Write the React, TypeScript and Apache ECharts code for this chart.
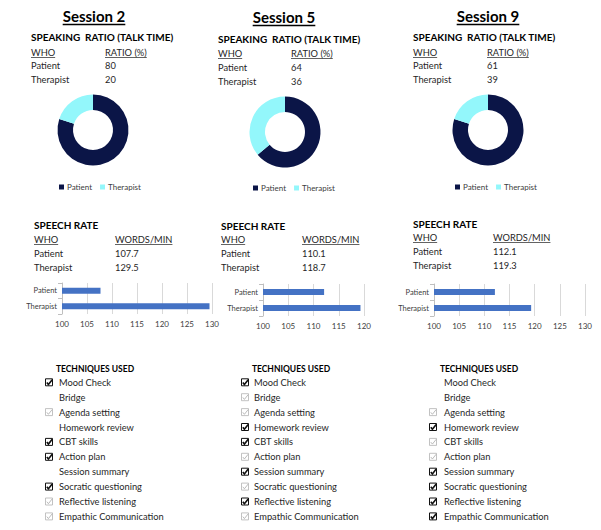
import React, { useEffect, useRef } from "react";
import * as echarts from "echarts";

const sessions = ["Session 2", "Session 5", "Session 9"];
const whoLabels = ["Patient", "Therapist"];
const ratioPatientText = ["80", "64", "61"];
const ratioTherapistText = ["20", "36", "39"];
// slice sizes as drawn in the picture
const donutPatient = [80, 64, 80];
const donutTherapist = [20, 36, 20];
const ratePatientText = ["107.7", "110.1", "112.1"];
const rateTherapistText = ["129.5", "118.7", "119.3"];
// bar lengths as drawn in the picture
const barPatient = [107.7, 112.1, 112.1];
const barTherapist = [129.5, 119.3, 119.3];
const axisMin = 100;
const axisMax = [130, 120, 130];
const axisInterval = 5;
const techniques = [
  "Mood Check",
  "Bridge",
  "Agenda setting",
  "Homework review",
  "CBT skills",
  "Action plan",
  "Session summary",
  "Socratic questioning",
  "Reflective listening",
  "Empathic Communication",
];
// 0 = no box, 1 = light check, 2 = dark check
const techState = [
  [2, 0, 1, 0, 2, 2, 0, 2, 1, 1],
  [2, 1, 1, 2, 2, 1, 2, 1, 2, 1],
  [0, 0, 1, 2, 1, 1, 2, 2, 2, 2],
];

const FONT = "Lato, 'Noto Sans', sans-serif";
const NAVY = "#0b1547";
const CYAN = "#93f7fb";
const BLUE = "#4472c4";
const TXT = "#1f1f1f";

// layout
const L = {
  titleX: [94, 284, 488],
  titleY: [16, 17, 16],
  srX: [31, 218, 413],
  srY: [37, 39, 37],
  whoY: [52, 53, 52],
  valX: [105, 291, 487],
  r1Y: [65, 67, 65],
  r2Y: [79, 81, 79],
  pie: [
    [93, 130],
    [285, 132],
    [488, 130],
  ],
  legLeft: [54, 248, 450],
  legTop: [178, 179, 178],
  rateX: [34, 221, 413],
  rateY: [225, 226, 224],
  rWhoY: [239, 239, 237],
  rValX: [115, 302, 493],
  rr1Y: [253, 253, 251],
  rr2Y: [267, 267, 265],
  grid: [
    { left: 62, top: 283, width: 150, height: 31 },
    { left: 263, top: 284, width: 101, height: 32 },
    { left: 434, top: 284, width: 151, height: 32 },
  ],
  techHX: [95, 291, 479],
  techHY: 369,
  boxX: [45, 241, 429],
  techTX: [59, 254, 444],
  techY0: 382.3,
  techStep: 14.9,
};

let measureCtx: CanvasRenderingContext2D | null = null;
function textWidth(text: string, font: string) {
  if (!measureCtx) measureCtx = document.createElement("canvas").getContext("2d");
  if (!measureCtx) return text.length * 6;
  measureCtx.font = font;
  return measureCtx.measureText(text).width;
}

function txt(text: string, x: number, y: number, font: string, align = "left", fill = TXT, underline = false) {
  const els: any[] = [
    {
      type: "text",
      x,
      y,
      style: {
        text,
        font,
        fill,
        align,
        verticalAlign: "middle",
        textAlign: align,
        textVerticalAlign: "middle",
      },
    },
  ];
  if (underline) {
    const w = textWidth(text, font);
    const x0 = align === "center" ? x - w / 2 : x;
    const m = /(\d+(\.\d+)?)px/.exec(font);
    const fs = m ? parseFloat(m[1]) : 10;
    const uy = Math.round(y + fs * 0.5) + 0.5;
    els.push({
      type: "line",
      shape: { x1: x0, y1: uy, x2: x0 + w, y2: uy },
      style: { stroke: fill, lineWidth: fs > 12 ? 1.3 : 0.7 },
    });
  }
  return els;
}

function checkbox(x: number, y: number, state: number) {
  if (state === 0) return [];
  const dark = state === 2;
  const col = dark ? "#111" : "#b3b3b3";
  const s = 8;
  const top = y - s / 2;
  return [
    {
      type: "rect",
      shape: { x: x + 0.5, y: top + 0.5, width: s - 1, height: s - 1 },
      style: { fill: "#fff", stroke: col, lineWidth: dark ? 1 : 0.8 },
    },
    {
      type: "polyline",
      shape: {
        points: [
          [x + 1.8, top + 4.2],
          [x + 3.4, top + 6.2],
          [x + 7.2, top + 1.4],
        ],
      },
      style: { fill: "none", stroke: col, lineWidth: dark ? 1.6 : 0.9 },
    },
  ];
}

function buildOption() {
  const graphic: any[] = [];
  const fTitle = `bold 15px ${FONT}`;
  const fHead = `bold 10px ${FONT}`;
  const fBody = `9.3px ${FONT}`;
  const fTech = `bold 8.5px ${FONT}`;
  for (let i = 0; i < 3; i++) {
    graphic.push(...txt(sessions[i], L.titleX[i], L.titleY[i], fTitle, "center", "#000", true));
    graphic.push(...txt("SPEAKING  RATIO (TALK TIME)", L.srX[i], L.srY[i], fHead, "left", "#000"));
    graphic.push(...txt("WHO", L.srX[i], L.whoY[i], fBody, "left", TXT, true));
    graphic.push(...txt("RATIO (%)", L.valX[i], L.whoY[i], fBody, "left", TXT, true));
    graphic.push(...txt(whoLabels[0], L.srX[i], L.r1Y[i], fBody));
    graphic.push(...txt(ratioPatientText[i], L.valX[i], L.r1Y[i], fBody));
    graphic.push(...txt(whoLabels[1], L.srX[i], L.r2Y[i], fBody));
    graphic.push(...txt(ratioTherapistText[i], L.valX[i], L.r2Y[i], fBody));

    graphic.push(...txt("SPEECH RATE", L.rateX[i], L.rateY[i], fHead, "left", "#000"));
    graphic.push(...txt("WHO", L.rateX[i], L.rWhoY[i], fBody, "left", TXT, true));
    graphic.push(...txt("WORDS/MIN", L.rValX[i], L.rWhoY[i], fBody, "left", TXT, true));
    graphic.push(...txt(whoLabels[0], L.rateX[i], L.rr1Y[i], fBody));
    graphic.push(...txt(ratePatientText[i], L.rValX[i], L.rr1Y[i], fBody));
    graphic.push(...txt(whoLabels[1], L.rateX[i], L.rr2Y[i], fBody));
    graphic.push(...txt(rateTherapistText[i], L.rValX[i], L.rr2Y[i], fBody));

    graphic.push(...txt("TECHNIQUES USED", L.techHX[i], L.techHY, fTech, "center", "#000"));
    techniques.forEach((t, k) => {
      const y = L.techY0 + k * L.techStep;
      graphic.push(...checkbox(L.boxX[i], y, techState[i][k]));
      graphic.push(...txt(t, L.techTX[i], y, fBody));
    });
  }

  const series: any[] = [];
  const grid: any[] = [];
  const xAxis: any[] = [];
  const yAxis: any[] = [];
  const legend: any[] = [];
  for (let i = 0; i < 3; i++) {
    series.push({
      type: "pie",
      center: L.pie[i],
      radius: [20, 35.5],
      startAngle: 90,
      clockwise: true,
      label: { show: false },
      labelLine: { show: false },
      silent: true,
      itemStyle: { borderWidth: 0 },
      data: [
        { name: whoLabels[0], value: donutPatient[i], itemStyle: { color: NAVY } },
        { name: whoLabels[1], value: donutTherapist[i], itemStyle: { color: CYAN } },
      ],
    });
    legend.push({
      data: whoLabels,
      left: L.legLeft[i],
      top: L.legTop[i],
      itemWidth: 5,
      itemHeight: 5,
      itemGap: 8,
      icon: "rect",
      selectedMode: false,
      textStyle: { fontSize: 8, color: "#404040", fontFamily: FONT, padding: [0, 0, 0, -2] },
    });
    grid.push({ ...L.grid[i], containLabel: false });
    xAxis.push({
      type: "value",
      gridIndex: i,
      min: axisMin,
      max: axisMax[i],
      interval: axisInterval,
      axisLine: { show: false },
      axisTick: { show: false },
      splitLine: { show: true, lineStyle: { color: "#d9d9d9", width: 1 } },
      axisLabel: { fontSize: 8, color: "#404040", fontFamily: FONT, margin: 6 },
    });
    yAxis.push({
      type: "category",
      gridIndex: i,
      inverse: true,
      data: whoLabels,
      axisLine: { show: true, lineStyle: { color: "#bfbfbf" } },
      axisTick: { show: true, length: 4, lineStyle: { color: "#bfbfbf" } },
      axisLabel: { fontSize: 7.5, color: "#404040", fontFamily: FONT, margin: 5 },
    });
    series.push({
      type: "bar",
      xAxisIndex: i,
      yAxisIndex: i,
      barWidth: 6,
      silent: true,
      itemStyle: { color: BLUE },
      data: [barPatient[i], barTherapist[i]],
    });
  }

  return {
    animation: false,
    backgroundColor: "#fff",
    textStyle: { fontFamily: FONT },
    legend,
    grid,
    xAxis,
    yAxis,
    series,
    graphic: { elements: graphic },
  };
}

export default function App() {
  const ref = useRef<HTMLDivElement>(null);
  useEffect(() => {
    document.body.style.margin = "0";
    if (!ref.current) return;
    const chart = echarts.init(ref.current, undefined, { renderer: "svg" });
    chart.setOption(buildOption() as any);
    return () => chart.dispose();
  }, []);
  return <div ref={ref} style={{ width: 601, height: 530 }} />;
}
